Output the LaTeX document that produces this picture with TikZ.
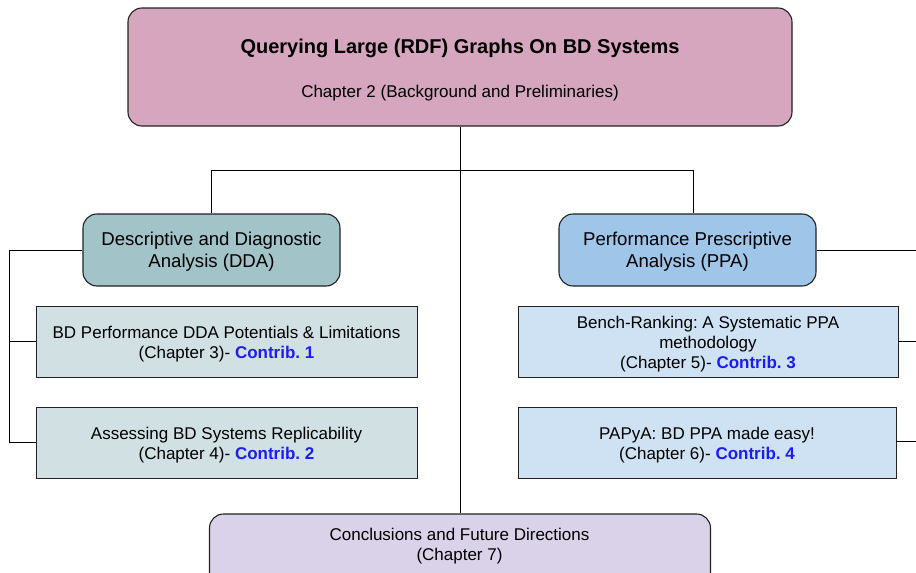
\documentclass[tikz,border=0pt]{standalone}
\usepackage{fontspec}
\setmainfont{Liberation Sans}
\frenchspacing
\definecolor{topfill}{HTML}{D5A6BD}
\definecolor{ddafill}{HTML}{A2C4C9}
\definecolor{ppafill}{HTML}{9FC5E8}
\definecolor{ddabox}{HTML}{D0E0E3}
\definecolor{ppabox}{HTML}{CFE2F3}
\definecolor{endfill}{HTML}{D9D2E9}
\definecolor{contrib}{HTML}{1C1CF0}
\definecolor{edge}{HTML}{222222}
\newcommand{\contrib}[1]{\textcolor{contrib}{\textbf{Contrib. #1}}}
\tikzset{
  rbox/.style={draw=edge, line width=1.1pt, rounded corners=14pt, inner sep=0pt},
  sbox/.style={draw=edge, line width=0.9pt, inner sep=0pt},
  boxtext/.style={font=\fontsize{17}{20}\selectfont, align=center, inner sep=0pt},
  headtext/.style={font=\fontsize{18.6}{22}\selectfont, align=center, inner sep=0pt},
  link/.style={draw=black, line width=1pt},
}
\begin{document}
\begin{tikzpicture}[x=1pt,y=-1pt]
\useasboundingbox (0,0) rectangle (916,573);
\clip (0,0) rectangle (916,573);

% main topic
\node[rbox, fill=topfill, minimum width=664pt, minimum height=118pt] (top) at (460,67) {};
\node[font=\fontsize{20}{24}\selectfont\bfseries] (title) at (460,48) {Querying Large (RDF) Graphs On BD Systems};
\node[font=\fontsize{17}{20}\selectfont] (sub) at (460,93) {Chapter 2 (Background and Preliminaries)};

% two analysis branches
\node[rbox, fill=ddafill, minimum width=257pt, minimum height=72pt] (dda) at (211.5,250) {};
\node[headtext] (ddatxt) at ([yshift=-2pt]dda.center) {Descriptive and Diagnostic\\Analysis (DDA)};
\node[rbox, fill=ppafill, minimum width=257pt, minimum height=72pt] (ppa) at (687.5,250) {};
\node[headtext] (ppatxt) at ([yshift=-2pt]ppa.center) {Performance Prescriptive\\Analysis (PPA)};

% chapters
\node[sbox, fill=ddabox, minimum width=381pt, minimum height=71pt] (c3) at (226.5,341.5) {};
\node[boxtext] (c3txt) at ([yshift=-3pt]c3.center) {BD Performance DDA Potentials \& Limitations\\(Chapter 3)- \contrib{1}};
\node[sbox, fill=ddabox, minimum width=381pt, minimum height=71pt] (c4) at (226.5,442.5) {};
\node[boxtext] (c4txt) at ([yshift=-3pt]c4.center) {Assessing BD Systems Replicability\\(Chapter 4)- \contrib{2}};
\node[sbox, fill=ppabox, minimum width=380pt, minimum height=71pt] (c5) at (708,341.5) {};
\node[boxtext] (c5txt) at ([yshift=-3pt]c5.center) {Bench-Ranking: A Systematic PPA\\methodology\\(Chapter 5)- \contrib{3}};
\node[sbox, fill=ppabox, minimum width=378pt, minimum height=71pt] (c6) at (707,442.5) {};
\node[boxtext] (c6txt) at ([yshift=-3pt]c6.center) {PAPyA: BD PPA made easy!\\(Chapter 6)- \contrib{4}};

% conclusions (runs past the lower edge)
\node[rbox, fill=endfill, minimum width=501pt, minimum height=90pt] (end) at (460,559) {};
\node[boxtext] (endtxt) at (459.5,546) {Conclusions and Future Directions\\(Chapter 7)};

% connectors, placed on half units so they stay crisp
\coordinate (spine) at (460.5,170.5);
\coordinate (ldrop) at (211.5,170.5);
\coordinate (rdrop) at (693.5,170.5);
\coordinate (lbus) at (9.5,250.5);
\coordinate (rbus) at (916,250.5);
\coordinate (r5) at (916,341.5);
\coordinate (r6) at (916,441.5);

\draw[link] (spine |- top.south) -- (spine |- end.north);
\draw[link] (ldrop |- dda.north) -- (ldrop) -- (rdrop) -- (rdrop |- ppa.north);
\draw[link] (dda.west |- lbus) -- (lbus) |- (c4.west);
\draw[link] (lbus |- c3.west) -- (c3.west);
\draw[link] (ppa.east |- rbus) -- (rbus);
\draw[link] (c5.east) -- (r5);
\draw[link] (c6.east |- r6) -- (r6);
\end{tikzpicture}
\end{document}
